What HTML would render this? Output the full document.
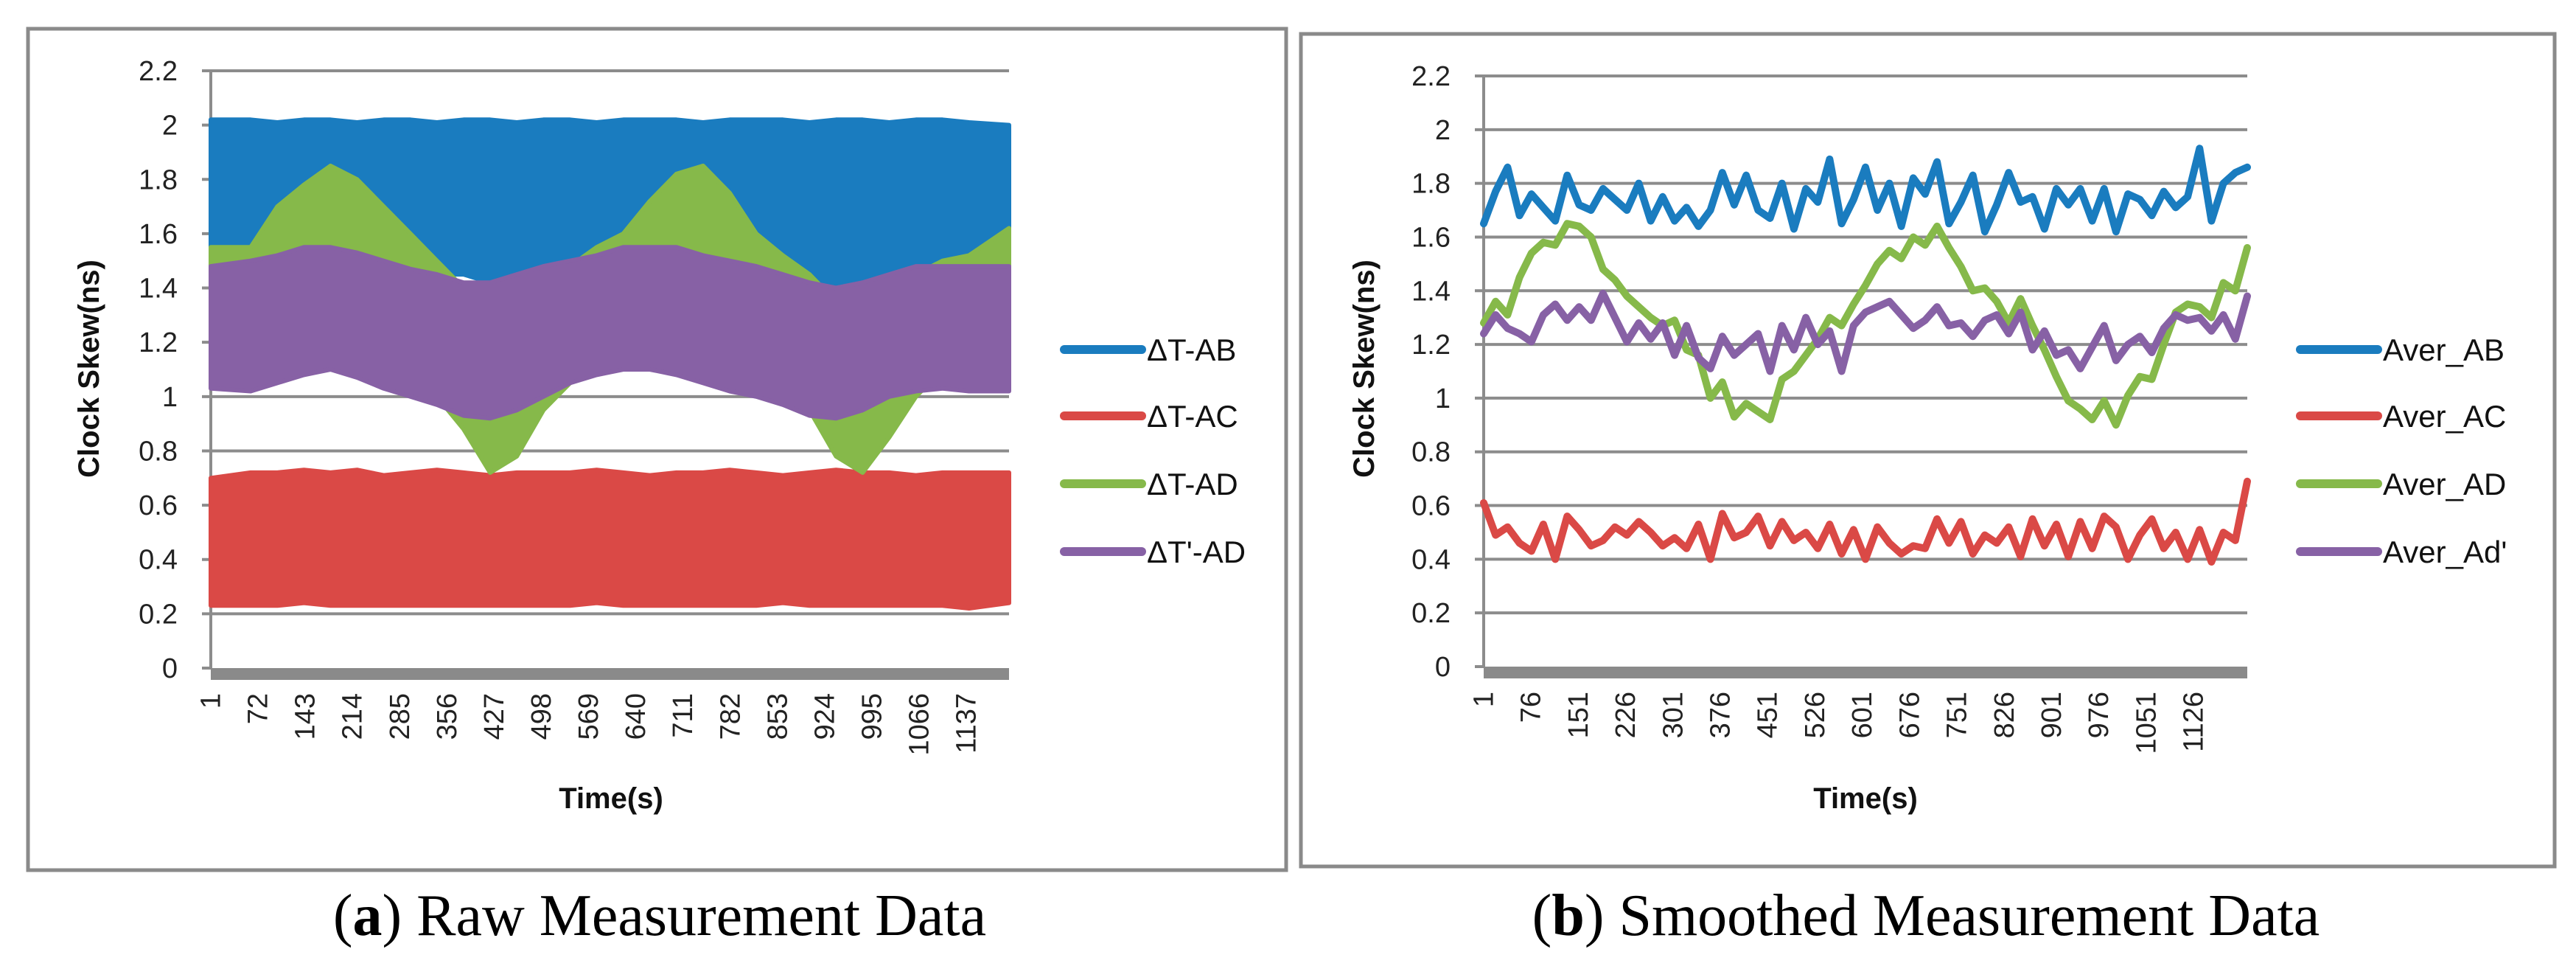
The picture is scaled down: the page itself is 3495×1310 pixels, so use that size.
<!DOCTYPE html>
<html><head><meta charset="utf-8"><style>
html,body{margin:0;padding:0;background:#fff;}
svg{display:block;}
.tk{font-family:"Liberation Sans",sans-serif;font-size:38px;fill:#222;}
.lg{font-family:"Liberation Sans",sans-serif;font-size:42px;fill:#111;}
.ttl{font-family:"Liberation Sans",sans-serif;font-size:40px;font-weight:bold;fill:#111;}
.cap{font-family:"Liberation Serif",serif;font-size:80px;fill:#000;}
</style></head><body>
<svg id="fig" width="3495" height="1310" viewBox="0 0 3495 1310" xmlns="http://www.w3.org/2000/svg">
<rect x="38" y="39" width="1707" height="1141" fill="none" stroke="#8a8a8a" stroke-width="5"/>
<rect x="1765" y="46" width="1701" height="1129" fill="none" stroke="#8a8a8a" stroke-width="5"/>
<g id="pa"></g>
<g id="pb"></g>
<text class="cap" x="895" y="1268" text-anchor="middle">(<tspan font-weight="bold">a</tspan>) Raw Measurement Data</text>
<text class="cap" x="2613" y="1268" text-anchor="middle">(<tspan font-weight="bold">b</tspan>) Smoothed Measurement Data</text>
</svg>
<script>
// ---------- data ----------
const yTicks = [0,0.2,0.4,0.6,0.8,1,1.2,1.4,1.6,1.8,2,2.2];
const yTickLabels = ["0","0.2","0.4","0.6","0.8","1","1.2","1.4","1.6","1.8","2","2.2"];
const rawTickLabels = ["1","72","143","214","285","356","427","498","569","640","711","782","853","924","995","1066","1137"];
const smTickLabels = ["1","76","151","226","301","376","451","526","601","676","751","826","901","976","1051","1126"];
const rawNames = ["ΔT-AB","ΔT-AC","ΔT-AD","ΔT'-AD"];
const smNames = ["Aver_AB","Aver_AC","Aver_AD","Aver_Ad'"];
const rawCount = 1200;
const smCount = 1210;
const abHigh = [2.02,2.02,2.01,2.02,2.02,2.01,2.02,2.02,2.01,2.02,2.02,2.01,2.02,2.02,2.01,2.02,2.02,2.02,2.01,2.02,2.02,2.02,2.01,2.02,2.02,2.01,2.02,2.02,2.01,2.00];
const abLow  = [1.55,1.55,1.55,1.55,1.55,1.55,1.55,1.50,1.45,1.45,1.42,1.40,1.42,1.45,1.50,1.55,1.55,1.55,1.55,1.50,1.50,1.45,1.43,1.40,1.40,1.42,1.45,1.50,1.50,1.55];
const acHigh = [0.70,0.72,0.72,0.73,0.72,0.73,0.71,0.72,0.73,0.72,0.71,0.72,0.72,0.72,0.73,0.72,0.71,0.72,0.72,0.73,0.72,0.71,0.72,0.73,0.72,0.72,0.71,0.72,0.72,0.72];
const acLow  = [0.23,0.23,0.23,0.24,0.23,0.23,0.23,0.23,0.23,0.23,0.23,0.23,0.23,0.23,0.24,0.23,0.23,0.23,0.23,0.23,0.23,0.24,0.23,0.23,0.23,0.23,0.23,0.23,0.22,0.24];
const adHigh = [1.55,1.55,1.70,1.78,1.85,1.80,1.70,1.60,1.50,1.40,1.30,1.35,1.40,1.48,1.55,1.60,1.72,1.82,1.85,1.75,1.60,1.52,1.45,1.35,1.30,1.35,1.45,1.50,1.52,1.62];
const adLow  = [1.40,1.42,1.45,1.50,1.50,1.45,1.35,1.20,1.00,0.88,0.72,0.78,0.95,1.05,1.15,1.20,1.30,1.40,1.45,1.40,1.30,1.10,0.95,0.78,0.72,0.85,1.00,1.10,1.20,1.30];
const adpHigh= [1.48,1.50,1.52,1.55,1.55,1.53,1.50,1.47,1.45,1.42,1.42,1.45,1.48,1.50,1.52,1.55,1.55,1.55,1.52,1.50,1.48,1.45,1.42,1.40,1.42,1.45,1.48,1.48,1.48,1.48];
const adpLow = [1.03,1.02,1.05,1.08,1.10,1.07,1.03,1.00,0.97,0.93,0.92,0.95,1.00,1.05,1.08,1.10,1.10,1.08,1.05,1.02,1.00,0.97,0.93,0.92,0.95,1.00,1.02,1.03,1.02,1.02];
const averAB = [1.65,1.77,1.86,1.68,1.76,1.71,1.66,1.83,1.72,1.70,1.78,1.74,1.70,1.80,1.66,1.75,1.66,1.71,1.64,1.70,1.84,1.72,1.83,1.70,1.67,1.80,1.63,1.78,1.73,1.89,1.65,1.74,1.86,1.70,1.80,1.64,1.82,1.76,1.88,1.65,1.73,1.83,1.62,1.72,1.84,1.73,1.75,1.63,1.78,1.72,1.78,1.66,1.78,1.62,1.76,1.74,1.68,1.77,1.71,1.75,1.93,1.66,1.80,1.84,1.86];
const averAC = [0.61,0.49,0.52,0.46,0.43,0.53,0.40,0.56,0.51,0.45,0.47,0.52,0.49,0.54,0.50,0.45,0.48,0.44,0.53,0.40,0.57,0.48,0.50,0.56,0.45,0.54,0.47,0.50,0.44,0.53,0.42,0.51,0.40,0.52,0.46,0.42,0.45,0.44,0.55,0.46,0.54,0.42,0.49,0.46,0.52,0.41,0.55,0.45,0.53,0.41,0.54,0.44,0.56,0.52,0.40,0.49,0.55,0.44,0.50,0.40,0.51,0.39,0.50,0.47,0.69];
const averAD = [1.28,1.36,1.31,1.45,1.54,1.58,1.57,1.65,1.64,1.60,1.48,1.44,1.38,1.34,1.30,1.27,1.29,1.18,1.16,1.00,1.06,0.93,0.98,0.95,0.92,1.07,1.10,1.16,1.22,1.30,1.27,1.35,1.42,1.50,1.55,1.52,1.60,1.57,1.64,1.56,1.49,1.40,1.41,1.36,1.28,1.37,1.27,1.18,1.08,0.99,0.96,0.92,0.99,0.90,1.01,1.08,1.07,1.20,1.32,1.35,1.34,1.30,1.43,1.40,1.56];
const averADp= [1.24,1.31,1.26,1.24,1.21,1.31,1.35,1.29,1.34,1.29,1.39,1.30,1.21,1.28,1.22,1.28,1.16,1.27,1.15,1.11,1.23,1.16,1.20,1.24,1.10,1.27,1.18,1.30,1.20,1.25,1.10,1.27,1.32,1.34,1.36,1.31,1.26,1.29,1.34,1.27,1.28,1.23,1.29,1.31,1.24,1.32,1.18,1.25,1.16,1.18,1.11,1.19,1.27,1.14,1.20,1.23,1.17,1.26,1.31,1.29,1.30,1.25,1.31,1.22,1.38];
const colors = ["#1a7cbf","#da4946","#86b94a","#8761a5"];

const NS = "http://www.w3.org/2000/svg";
function mk(parent, tag, attrs){
  const e = document.createElementNS(NS, tag);
  for (const k in attrs) e.setAttribute(k, attrs[k]);
  parent.appendChild(e);
  return e;
}

function drawFrame(g, P, tickLabels, tickStep, count, names, legendX, ylabX, titleX){
  const yS = v => P.y0 - (v/2.2)*(P.y0 - P.y1);
  const xS = i => P.x0 + (i/count)*(P.x1 - P.x0);
  yTicks.forEach((t, i) => {
    if (t > 0) {
      const gl = mk(g, "line", {x1:P.x0-12, x2:P.x1, y1:yS(t), y2:yS(t), stroke:"#8c8c8c", "stroke-width":4});
      
      
    } else {
      const tk = mk(g, "line", {x1:P.x0-12, x2:P.x0, y1:yS(t), y2:yS(t), stroke:"#8c8c8c", "stroke-width":4});
      
      
    }
    const tx = mk(g, "text", {x:P.x0-45, y:yS(t)+13, "text-anchor":"end", class:"tk"});
    tx.textContent = yTickLabels[i];
    
    
  });
  const ax = mk(g, "line", {x1:P.x0, x2:P.x0, y1:P.y1-2, y2:P.y0, stroke:"#8c8c8c", "stroke-width":4});
  
  
  const bar = mk(g, "rect", {x:P.x0, y:P.y0, width:P.x1-P.x0, height:16, fill:"#8a8a8a"});
  
  
  tickLabels.forEach((lab, i) => {
    const x = xS(i*tickStep + 0.5);
    const t = mk(g, "text", {x:x, y:P.y0+34, "text-anchor":"end", "dominant-baseline":"central", class:"tk", transform:`rotate(-90 ${x} ${P.y0+34})`});
    t.textContent = lab;
    
    
  });
  const yl = mk(g, "text", {x:ylabX, y:500, "text-anchor":"middle", class:"ttl", transform:`rotate(-90 ${ylabX} 500)`});
  yl.textContent = "Clock Skew(ns)";
  
  
  const xl = mk(g, "text", {x:titleX, y:1096, "text-anchor":"middle", class:"ttl"});
  xl.textContent = "Time(s)";
  
  
  const ly = [474,564,656,748];
  names.forEach((n, i) => {
    const lg = mk(g, "g", {});
    
    
    mk(lg, "line", {x1:legendX, x2:legendX+105, y1:ly[i], y2:ly[i], stroke:colors[i], "stroke-width":12, "stroke-linecap":"round"});
    const t = mk(lg, "text", {x:legendX+112, y:ly[i]+15, class:"lg"});
    t.textContent = n;
  });
  return {xS, yS};
}

// ---------- panel a ----------
const PA = {x0:286, x1:1369, y0:906, y1:96};
const ga = document.getElementById("pa");
const sa = drawFrame(ga, PA, rawTickLabels, 71, rawCount, rawNames, 1444, 134, 829);
const bins = abHigh.length, per = rawCount / bins;
function binX(i){ return i === 0 ? sa.xS(0) : (i === bins-1 ? sa.xS(rawCount) : sa.xS((i+0.5)*per)); }
[[abHigh,abLow],[acHigh,acLow],[adHigh,adLow],[adpHigh,adpLow]].forEach((pair, s) => {
  const [hi, lo] = pair;
  let d = "";
  hi.forEach((v, i) => {
    d += (i === 0 ? "M" : "L") + binX(i).toFixed(1) + "," + sa.yS(v).toFixed(1) + " ";
  });
  for (let i = lo.length-1; i >= 0; i--) {
    d += "L" + binX(i).toFixed(1) + "," + sa.yS(lo[i]).toFixed(1) + " ";
  }
  d += "Z";
  const p = mk(ga, "path", {d:d, fill:colors[s], stroke:colors[s], "stroke-width":6, "stroke-linejoin":"round"});
  
  
});

// ---------- panel b ----------
const PB = {x0:2013, x1:3049, y0:904, y1:103};
const gb = document.getElementById("pb");
const sb = drawFrame(gb, PB, smTickLabels, 75, smCount, smNames, 3121, 1864, 2531);
[averAB, averAC, averAD, averADp].forEach((arr, s) => {
  const step = smCount / (arr.length - 1);
  const pts = arr.map((v, i) => sb.xS(i*step).toFixed(1) + "," + sb.yS(v).toFixed(1)).join(" ");
  const pl = mk(gb, "polyline", {points:pts, fill:"none", stroke:colors[s], "stroke-width":10, "stroke-linejoin":"round", "stroke-linecap":"round"});
  
  
});
</script>
</body></html>
